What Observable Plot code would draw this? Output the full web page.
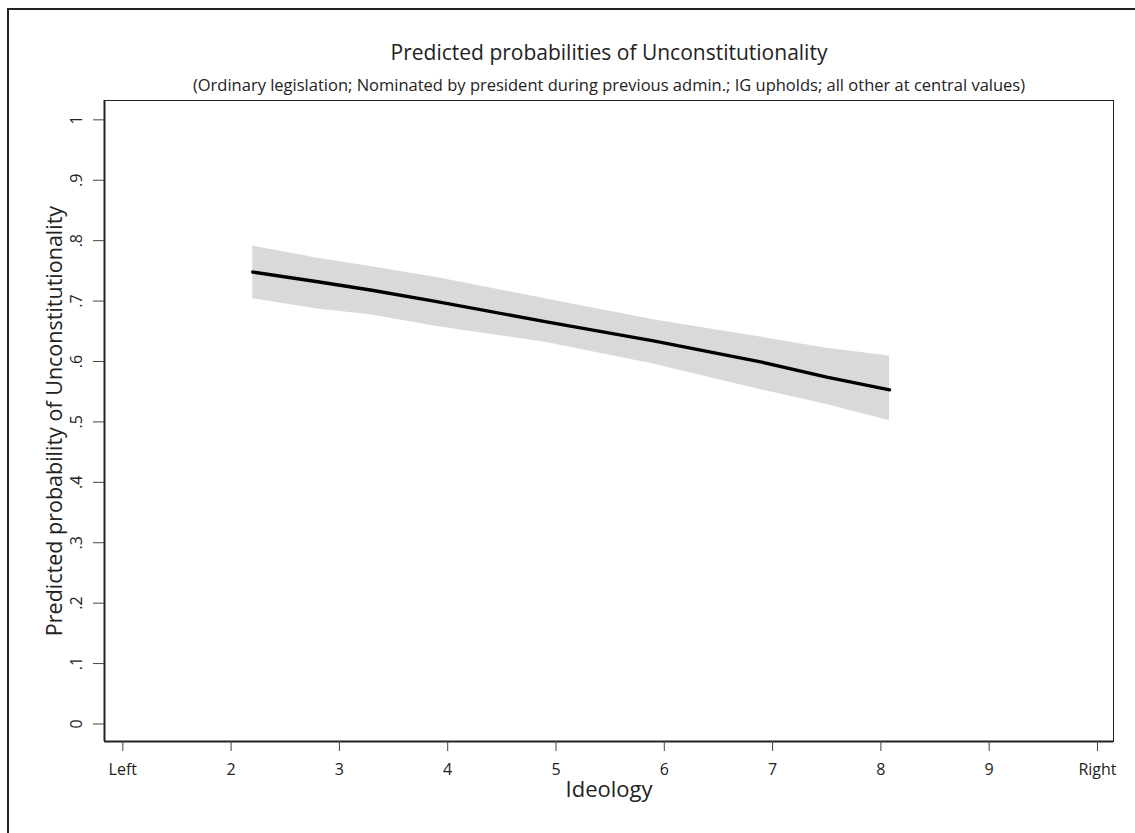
<!DOCTYPE html>
<html>
<head>
<meta charset="utf-8">
<script src="https://cdn.jsdelivr.net/npm/d3@7"></script>
<script src="https://cdn.jsdelivr.net/npm/@observablehq/plot@0.6"></script>
<style>
  html, body { margin: 0; padding: 0; background: #fff; }
  #wrap { position: relative; width: 1135px; height: 833px; overflow: hidden; background: #fff; }
  #border { position: absolute; left: 7px; top: 8px; right: 0; bottom: 0; border-left: 2px solid #222; border-top: 2px solid #222; pointer-events: none; }
  #chart { position: absolute; left: 0; top: 0; }
</style>
</head>
<body>
<div id="wrap"><div id="chart"></div><div id="border"></div></div>
<script>
// Data
const ideology = [2.2, 2.8, 3.3, 3.9, 4.9, 5.9, 6.9, 7.5, 8.08];
const predicted = [0.748, 0.732, 0.718, 0.699, 0.666, 0.634, 0.599, 0.574, 0.553];
const lowerCI  = [0.704, 0.687, 0.677, 0.658, 0.632, 0.596, 0.553, 0.529, 0.502];
const upperCI  = [0.791, 0.771, 0.757, 0.739, 0.704, 0.669, 0.640, 0.622, 0.609];

const xTicks = [1, 2, 3, 4, 5, 6, 7, 8, 9, 10];
const xTickLabels = ["Left", "2", "3", "4", "5", "6", "7", "8", "9", "Right"];
const yTicks = [0, 0.1, 0.2, 0.3, 0.4, 0.5, 0.6, 0.7, 0.8, 0.9, 1];
const yTickLabels = ["0", ".1", ".2", ".3", ".4", ".5", ".6", ".7", ".8", ".9", "1"];

const title = "Predicted probabilities of Unconstitutionality";
const subtitle = "(Ordinary legislation; Nominated by president during previous admin.; IG upholds; all other at central values)";
const xTitle = "Ideology";
const yTitle = "Predicted probability of Unconstitutionality";

const rows = ideology.map((x, i) => ({x, fit: predicted[i], lo: lowerCI[i], hi: upperCI[i]}));
const yTickRows = yTicks.map((v, i) => ({v, label: yTickLabels[i]}));

const xDomain = [0.831, 10.148];
const yDomain = [-0.029, 1.032];

const chart = Plot.plot({
  width: 1135,
  height: 833,
  marginLeft: 104,
  marginRight: 22,
  marginTop: 100,
  marginBottom: 92,
  style: {fontFamily: "'Open Sans', sans-serif", fontSize: "16px", color: "#222", background: "transparent", overflow: "visible"},
  x: {domain: xDomain},
  y: {domain: yDomain},
  marks: [
    Plot.areaY(rows, {x: "x", y1: "lo", y2: "hi", fill: "#d9d9d9"}),
    Plot.line(rows, {x: "x", y: "fit", stroke: "#000", strokeWidth: 3.4}),
    Plot.frame({stroke: "#222", strokeWidth: 1}),
    Plot.ruleX([xDomain[0]], {stroke: "#222", strokeWidth: 2}),
    Plot.ruleY([yDomain[0]], {stroke: "#222", strokeWidth: 2}),
    Plot.axisX({ticks: xTicks, tickSize: 10, tickPadding: 12, tickFormat: (d) => xTickLabels[xTicks.indexOf(d)], label: null, stroke: "#444", fontSize: 16}),
    Plot.axisY({ticks: yTicks, tickSize: 11, tickFormat: () => "", label: null, stroke: "#444"}),
    Plot.text(yTickRows, {y: "v", text: "label", frameAnchor: "left", dx: -28, rotate: -90, textAnchor: "middle", lineAnchor: "middle", fontSize: 16, fill: "#222"}),
    Plot.text([yTitle], {frameAnchor: "left", dx: -49, rotate: -90, textAnchor: "middle", lineAnchor: "middle", fontSize: 21.5, fill: "#222"}),
    Plot.text([xTitle], {frameAnchor: "bottom", dy: 48, textAnchor: "middle", lineAnchor: "middle", fontSize: 22, fill: "#222"}),
    Plot.text([title], {frameAnchor: "top", dy: -47, textAnchor: "middle", lineAnchor: "middle", fontSize: 21, fill: "#222"}),
    Plot.text([subtitle], {frameAnchor: "top", dy: -15, textAnchor: "middle", lineAnchor: "middle", fontSize: 16.5, fill: "#222"})
  ]
});
document.getElementById("chart").appendChild(chart);
</script>
</body>
</html>
